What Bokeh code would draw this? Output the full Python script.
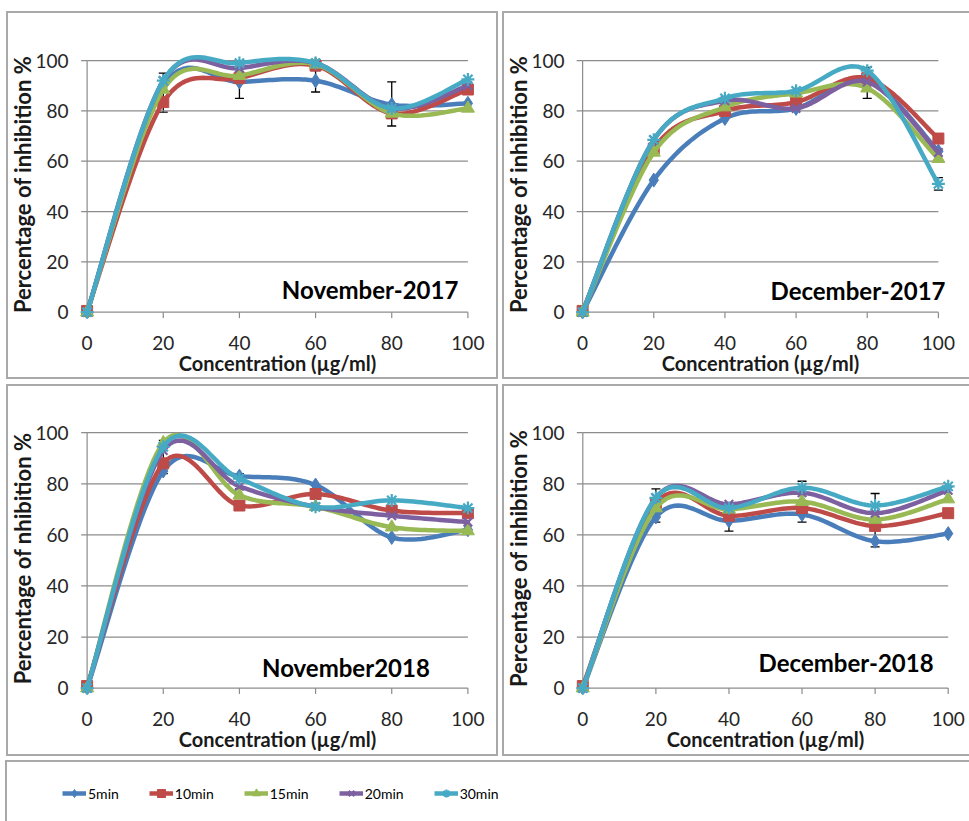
import numpy as np
from bokeh.plotting import figure
from bokeh.layouts import column, row, Spacer
from bokeh.models import (ColumnDataSource, FixedTicker, Label, Legend, LegendItem,
                          Whisker, TeeHead)
from bokeh.embed import file_html
from bokeh.resources import INLINE

# ---------------- data ----------------
concentration = [0, 20, 40, 60, 80, 100]
x_ticks = [0, 20, 40, 60, 80, 100]
y_ticks = [0, 20, 40, 60, 80, 100]
series_names = ["5min", "10min", "15min", "20min", "30min"]

nov2017_5min = [0, 90, 91.5, 92, 82.5, 83]
nov2017_10min = [0.5, 83.5, 93, 98, 79, 88.5]
nov2017_15min = [0, 88.5, 94, 98.5, 79, 81]
nov2017_20min = [0, 92, 97, 99, 81, 90]
nov2017_30min = [0, 92, 99, 99, 81, 92.5]
nov2017_err_x = [20, 40, 60, 80]
nov2017_err_lo = [79.5, 85, 87.5, 74]
nov2017_err_hi = [95, 97, 96, 91.5]

dec2017_5min = [0, 52.5, 77, 81, 92, 64]
dec2017_10min = [0.5, 65, 80, 83.5, 93, 69]
dec2017_15min = [0, 63.5, 81.5, 87, 89, 61]
dec2017_20min = [0, 68.5, 84, 81, 91.5, 63.5]
dec2017_30min = [0, 68.5, 85, 88, 96, 51]
dec2017_err_x = [80, 100]
dec2017_err_lo = [85, 48.5]
dec2017_err_hi = [97.3, 53.5]

nov2018_5min = [0, 85, 83, 79.5, 59, 62]
nov2018_10min = [0.8, 88, 71.5, 76, 69.5, 68.5]
nov2018_15min = [0, 96, 75.5, 71, 63, 61.5]
nov2018_20min = [0, 93, 79, 71, 67.5, 65]
nov2018_30min = [0, 94.5, 82, 71, 73.5, 70.5]
nov2018_err_x = [20, 40]
nov2018_err_lo = [84, 78]
nov2018_err_hi = [97, 84]

dec2018_5min = [0, 67, 65.5, 68, 57.5, 60.5]
dec2018_10min = [0.8, 72.5, 67.5, 70.5, 63.5, 68.5]
dec2018_15min = [0, 70.5, 70, 73, 66, 74]
dec2018_20min = [0, 74.5, 72, 76.5, 68.5, 77.5]
dec2018_30min = [0, 74.5, 70.5, 78.5, 71.5, 79]
dec2018_err_x = [20, 40, 60, 80]
dec2018_err_lo = [65, 61.5, 65, 55.3]
dec2018_err_hi = [78, 72, 81, 76.2]

# ---------------- styles ----------------
COLORS = ["#4A7EBB", "#BE4B48", "#98B954", "#7D60A0", "#46AAC5"]
MARKERS = ["diamond", "square", "triangle", "x", "asterisk"]
MSIZE = [14, 11, 13, 12, 13]
FONT = "Lato"
GRID = "#8c8c8c"
BOX_FULL = {"box-shadow": "inset 0 0 0 2px #a9a9a9"}
BOX_OPEN_RIGHT = {"box-shadow": "inset 2px 0 0 0 #a9a9a9, inset 0 2px 0 0 #a9a9a9, inset 0 -2px 0 0 #a9a9a9"}
BOX_TOP_LEFT = {"box-shadow": "inset 2px 0 0 0 #a9a9a9, inset 0 2px 0 0 #a9a9a9"}


def smooth(xs, ys, n=24):
    """Excel-like smoothed line through the data points (Bezier, 1/6 tangents)."""
    pts = np.column_stack([xs, ys]).astype(float)
    out = [pts[0]]
    t = np.linspace(0, 1, n)[1:]
    for i in range(len(pts) - 1):
        p0 = pts[i - 1] if i > 0 else pts[i]
        p1 = pts[i]
        p2 = pts[i + 1]
        p3 = pts[i + 2] if i + 2 < len(pts) else pts[i + 1]
        c1 = p1 + (p2 - p0) / 6.0
        c2 = p2 - (p3 - p1) / 6.0
        seg = (((1 - t) ** 3)[:, None] * p1 + (3 * (1 - t) ** 2 * t)[:, None] * c1
               + (3 * (1 - t) * t ** 2)[:, None] * c2 + (t ** 3)[:, None] * p2)
        out.extend(seg)
    arr = np.array(out)
    return arr[:, 0], arr[:, 1]


def make_panel(series, err_x, err_lo, err_hi, ylabel, title, title_x, title_y,
               width, height, bl, br, bt, bb, box):
    p = figure(width=width, height=height, x_range=(-2, 102), y_range=(-2.5, 104),
               output_backend="svg", toolbar_location=None,
               min_border_left=bl, min_border_right=br,
               min_border_top=bt, min_border_bottom=bb,
               outline_line_color=None, background_fill_color=None,
               border_fill_color=None, styles=box)
    p.grid.visible = False
    sx_per_px = 104.0 / (width - bl - br)
    sy_per_px = 106.5 / (height - bt - bb)
    # horizontal gridlines from 0 to 100
    n = len(y_ticks)
    p.segment(x0=[x_ticks[0]] * n, x1=[x_ticks[-1]] * n,
              y0=y_ticks, y1=y_ticks, line_color=GRID, line_width=1.2)
    # axis lines at x=0 and y=0 with outward tick marks
    p.segment(x0=[x_ticks[0]], x1=[x_ticks[0]], y0=[y_ticks[0]], y1=[y_ticks[-1]],
              line_color=GRID, line_width=1.2)
    p.segment(x0=[0 - 6 * sx_per_px] * n, x1=[0] * n, y0=y_ticks, y1=y_ticks,
              line_color=GRID, line_width=1.2)
    p.segment(x0=x_ticks, x1=x_ticks, y0=[0] * len(x_ticks),
              y1=[0 - 6 * sy_per_px] * len(x_ticks), line_color=GRID, line_width=1.2)

    for ax in (p.xaxis[0], p.yaxis[0]):
        ax.ticker = FixedTicker(ticks=x_ticks)
        ax.axis_line_color = None
        ax.major_tick_line_color = None
        ax.major_tick_in = 0
        ax.major_tick_out = 0
        ax.minor_tick_line_color = None
        ax.minor_tick_out = 0
        ax.major_label_text_font = FONT
        ax.major_label_text_font_size = "19px"
        ax.major_label_text_color = "#262626"
        ax.axis_label_text_font = FONT
        ax.axis_label_text_font_style = "bold"
        ax.axis_label_text_color = "#1a1a1a"
    p.xaxis.axis_label = "Concentration (µg/ml)"
    p.xaxis.axis_label_text_font_size = "20px"
    p.xaxis.major_label_standoff = 17
    p.xaxis.axis_label_standoff = -2
    p.yaxis.axis_label = ylabel
    p.yaxis.axis_label_text_font_size = "22px"
    p.yaxis.major_label_standoff = 11
    p.yaxis.axis_label_standoff = -4

    src = ColumnDataSource(dict(x=err_x, lo=err_lo, hi=err_hi))
    p.add_layout(Whisker(source=src, base="x", lower="lo", upper="hi",
                         line_color="black", line_width=1.3,
                         upper_head=TeeHead(size=9, line_color="black", line_width=1.3),
                         lower_head=TeeHead(size=9, line_color="black", line_width=1.3)))

    for vals, c, m, s in zip(series, COLORS, MARKERS, MSIZE):
        sx, sy = smooth(concentration, vals)
        p.line(sx, sy, line_color=c, line_width=4.5, line_join="round", line_cap="round")
        lw = 2.2 if m in ("x", "asterisk") else 1
        p.scatter(concentration, vals, marker=m, size=s, fill_color=c,
                  line_color=c, line_width=lw)

    p.add_layout(Label(x=title_x, y=title_y, text=title, text_align="right",
                       text_baseline="middle", text_font=FONT,
                       text_font_size="24px", text_font_style="bold",
                       text_color="black"))
    return p


p1 = make_panel([nov2017_5min, nov2017_10min, nov2017_15min, nov2017_20min, nov2017_30min],
                nov2017_err_x, nov2017_err_lo, nov2017_err_hi,
                "Percentage of inhibition %", "November-2017", 97.5, 9,
                492, 368, 72, 23, 39, 59, BOX_FULL)
p2 = make_panel([dec2017_5min, dec2017_10min, dec2017_15min, dec2017_20min, dec2017_30min],
                dec2017_err_x, dec2017_err_lo, dec2017_err_hi,
                "Percentage of inhibition %", "December-2017", 102, 8.7,
                467, 368, 71, 24, 39, 61, BOX_OPEN_RIGHT)
p3 = make_panel([nov2018_5min, nov2018_10min, nov2018_15min, nov2018_20min, nov2018_30min],
                nov2018_err_x, nov2018_err_lo, nov2018_err_hi,
                "Percentage of nhibition %", "November2018", 90, 8,
                492, 372, 68, 23, 38, 62, BOX_FULL)
p4 = make_panel([dec2018_5min, dec2018_10min, dec2018_15min, dec2018_20min, dec2018_30min],
                dec2018_err_x, dec2018_err_lo, dec2018_err_hi,
                "Percentage of inhibition %", "December-2018", 96, 10,
                467, 372, 72, 14, 38, 58, BOX_OPEN_RIGHT)

# ---------------- legend strip ----------------
lf = figure(width=964, height=61, x_range=(0, 1), y_range=(0, 1),
            x_axis_type=None, y_axis_type=None, output_backend="svg",
            toolbar_location=None, min_border=0, outline_line_color=None,
            background_fill_color=None, border_fill_color=None, styles=BOX_TOP_LEFT)
lf.grid.visible = False
items = []
for name, c, m, s in zip(series_names, COLORS, MARKERS, MSIZE):
    lr = lf.line(x=[np.nan], y=[np.nan], line_color=c, line_width=4.5)
    lw = 2.2 if m in ("x", "asterisk") else 1
    sr = lf.scatter(x=[np.nan], y=[np.nan], marker=m, size=s, fill_color=c,
                    line_color=c, line_width=lw)
    items.append(LegendItem(label=name, renderers=[lr, sr]))
leg = Legend(items=items, orientation="horizontal", location=(57, 18), spacing=30,
             glyph_width=24, glyph_height=20, label_standoff=2, padding=0, margin=0,
             border_line_color=None, background_fill_alpha=0,
             label_text_font=FONT, label_text_font_size="14px",
             label_text_color="black")
lf.add_layout(leg)

layout = column(
    Spacer(height=11),
    row(Spacer(width=6), p1, Spacer(width=4), p2),
    Spacer(height=5),
    row(Spacer(width=6), p3, Spacer(width=4), p4),
    Spacer(height=4),
    row(Spacer(width=5), lf),
)
open("out.html", "w").write(file_html(layout, INLINE))
